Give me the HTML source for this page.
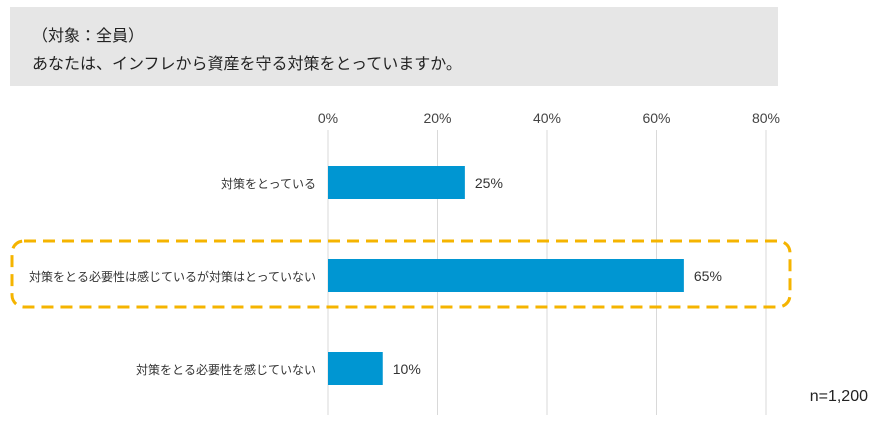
<!DOCTYPE html>
<html><head><meta charset="utf-8">
<style>
body{margin:0;width:893px;height:421px;background:#fff;overflow:hidden;font-family:"Liberation Sans","Noto Sans CJK JP",sans-serif;}
</style></head>
<body>
<svg width="893" height="421" xmlns="http://www.w3.org/2000/svg" style="font-family:'Liberation Sans','Noto Sans CJK JP',sans-serif">
<rect x="10" y="7" width="768" height="79" fill="#e6e6e6"/>
<text x="32" y="41" font-size="16" fill="#222">（対象：全員）</text>
<text x="32" y="69" font-size="16" fill="#222">あなたは、インフレから資産を守る対策をとっていますか。</text>
<g id="grid"></g>
<g id="bars"></g>
<rect x="12" y="241" width="778" height="66" rx="12" fill="none" stroke="#f5b400" stroke-width="3" stroke-dasharray="12,7"/>
<text x="868" y="401" font-size="16" fill="#222" text-anchor="end">n=1,200</text>
</svg>
<script>
const categories=["対策をとっている","対策をとる必要性は感じているが対策はとっていない","対策をとる必要性を感じていない"];
const values=[25,65,10];
const ticks=[0,20,40,60,80];
const x0=328, xScale=(766-328)/80;
const x=v=>x0+v*xScale;
const rowY=[166,259,352], barH=33;
const ns="http://www.w3.org/2000/svg";
const grid=document.getElementById('grid'), bars=document.getElementById('bars');
ticks.forEach(t=>{
  const l=document.createElementNS(ns,'line');
  l.setAttribute('x1',x(t));l.setAttribute('x2',x(t));l.setAttribute('y1',130);l.setAttribute('y2',415);
  l.setAttribute('stroke','#d9d9d9');l.setAttribute('stroke-width','1');
  
  
  grid.appendChild(l);
  const tx=document.createElementNS(ns,'text');
  tx.setAttribute('x',x(t));tx.setAttribute('y',123);tx.setAttribute('text-anchor','middle');
  tx.setAttribute('font-size','14');tx.setAttribute('fill','#444');
  tx.textContent=t+'%';
  
  
  grid.appendChild(tx);
});
categories.forEach((c,i)=>{
  const y=rowY[i];
  const r=document.createElementNS(ns,'rect');
  r.setAttribute('x',x0);r.setAttribute('y',y);r.setAttribute('width',x(values[i])-x0);r.setAttribute('height',barH);
  r.setAttribute('fill','#0096d2');
  
  
  bars.appendChild(r);
  const v=document.createElementNS(ns,'text');
  v.setAttribute('x',x(values[i])+10);v.setAttribute('y',y+22);v.setAttribute('font-size','14');v.setAttribute('fill','#333');
  v.textContent=values[i]+'%';
  
  
  bars.appendChild(v);
  const l=document.createElementNS(ns,'text');
  l.setAttribute('x',316);l.setAttribute('y',y+22);l.setAttribute('font-size','12');l.setAttribute('fill','#333');
  l.setAttribute('text-anchor','end');
  l.textContent=c;
  
  
  bars.appendChild(l);
});
</script>
</body></html>
